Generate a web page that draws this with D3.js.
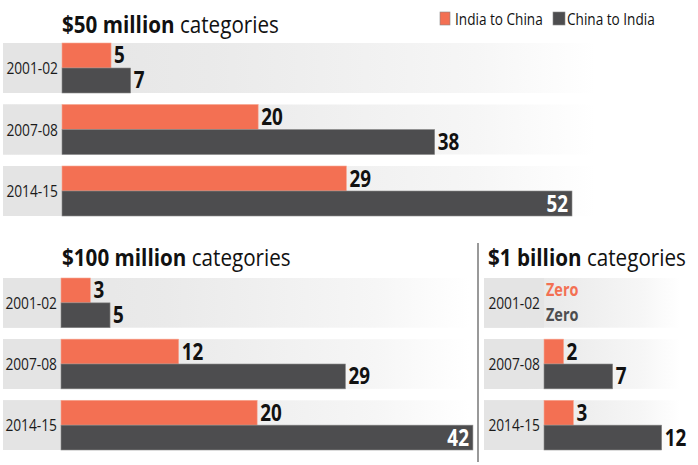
<!DOCTYPE html>
<html><head><meta charset="utf-8">
<script src="https://cdn.jsdelivr.net/npm/d3@7"></script>
<style>
html,body{margin:0;padding:0;background:#fff;}
svg{display:block;}
text{font-family:"Open Sans","Noto Sans","Liberation Sans",sans-serif;}
</style></head>
<body>
<svg id="chart" width="698" height="465"></svg>
<script>
const years = ["2001-02", "2007-08", "2014-15"];
const seriesNames = ["India to China", "China to India"];
const indiaToChina50m = [5, 20, 29];
const chinaToIndia50m = [7, 38, 52];
const indiaToChina100m = [3, 12, 20];
const chinaToIndia100m = [5, 29, 42];
const indiaToChina1b = [0, 2, 3];
const chinaToIndia1b = [0, 7, 12];
const titles = [["$50 million", " categories"], ["$100 million", " categories"], ["$1 billion", " categories"]];

const ORANGE = "#f37053", DARK = "#4d4d4f";
const svg = d3.select("#chart");
const defs = svg.append("defs");

// condensed text helper: horizontal compression via transform
function ctext(parent, x, y, o) {
  const g = parent.append("g").attr("transform", `translate(${x},${y}) scale(${o.sx || 0.85},1)`);
  const t = g.append("text").attr("x", 0).attr("y", 0)
    .attr("font-size", o.size).attr("font-weight", o.weight || "normal")
    .attr("fill", o.fill || "#111").attr("text-anchor", o.anchor || "start");
  if (o.text !== undefined) t.text(o.text);
  return t;
}

const x = d3.scaleLinear().domain([0, 52]).range([0, 510]);

const panels = [
  {title: titles[0], a: indiaToChina50m, b: chinaToIndia50m, left: 3, barX: 62, right: 595, y0: 43, y1: 216, tx: 62, ty: 33},
  {title: titles[1], a: indiaToChina100m, b: chinaToIndia100m, left: 3, barX: 61, right: 470, y0: 278, y1: 450, tx: 62, ty: 266},
  {title: titles[2], a: indiaToChina1b, b: chinaToIndia1b, left: 484, barX: 544, right: 680, y0: 278, y1: 450, tx: 488, ty: 266}
];

panels.forEach((p, pi) => {
  const gid = "grad" + pi;
  const g = defs.append("linearGradient").attr("id", gid)
    .attr("gradientUnits", "userSpaceOnUse")
    .attr("x1", p.left).attr("x2", p.right).attr("y1", 0).attr("y2", 0);
  g.append("stop").attr("offset", "0").attr("stop-color", "#e4e4e4");
  g.append("stop").attr("offset", "0.35").attr("stop-color", "#eaeaea");
  g.append("stop").attr("offset", "0.8").attr("stop-color", "#f6f6f6");
  g.append("stop").attr("offset", "1").attr("stop-color", "#ffffff");

  const y = d3.scaleBand().domain(years).range([p.y0, p.y1]).paddingInner(0.187);
  const half = y.bandwidth() / 2;
  const gp = svg.append("g");

  // title
  const t = ctext(gp, p.tx, p.ty, {size: 24, sx: 0.86});
  t.append("tspan").attr("font-weight", "bold").text(p.title[0]);
  t.append("tspan").text(p.title[1]);

  years.forEach(yr => {
    gp.append("rect").attr("x", p.left).attr("y", y(yr))
      .attr("width", p.right - p.left).attr("height", y.bandwidth()).attr("fill", `url(#${gid})`);
    gp.append("rect").attr("x", p.left).attr("y", y(yr))
      .attr("width", p.barX - p.left).attr("height", y.bandwidth()).attr("fill", "#e4e4e4");
    ctext(gp, p.barX - 4, y(yr) + y.bandwidth() / 2 + 6, {size: 16.2, sx: 0.85, anchor: "end", fill: "#1a1a1a", text: yr});
  });

  [[p.a, ORANGE, 0], [p.b, DARK, 1]].forEach(([vals, col, k]) => {
    years.forEach((yr, i) => {
      const v = vals[i];
      const top = y(yr) + k * half;
      if (v === 0) {
        ctext(gp, p.barX + 2, top + half / 2 + 6, {size: 17, weight: "bold", sx: 0.85, fill: col, text: "Zero"});
        return;
      }
      gp.append("rect").attr("x", p.barX).attr("y", top).attr("width", x(v)).attr("height", half)
        .attr("fill", col).attr("stroke", k ? "#8a8a8a" : "#f8a893").attr("stroke-width", 0.6);
      const inside = v >= 40;
      ctext(gp, inside ? p.barX + x(v) - 4 : p.barX + x(v) + 3, top + half / 2 + 8,
        {size: 23, weight: "bold", sx: 0.82, anchor: inside ? "end" : "start",
         fill: inside ? "#fff" : "#111", text: v});
    });
  });
});

// divider
svg.append("line").attr("x1", 478).attr("x2", 478).attr("y1", 243).attr("y2", 462)
  .attr("stroke", "#999").attr("stroke-width", 2);

// legend
const legend = svg.append("g");
const legendItems = [{name: seriesNames[0], col: ORANGE, sx: 440, w: 10, tx: 455},
                     {name: seriesNames[1], col: DARK, sx: 553, w: 12, tx: 567}];
legendItems.forEach(it => {
  legend.append("rect").attr("x", it.sx).attr("y", 12).attr("width", it.w).attr("height", 13)
    .attr("fill", it.col).attr("stroke", "#888").attr("stroke-width", 0.6);
  ctext(legend, it.tx, 25, {size: 16.6, sx: 0.82, text: it.name});
});
</script>
</body></html>
